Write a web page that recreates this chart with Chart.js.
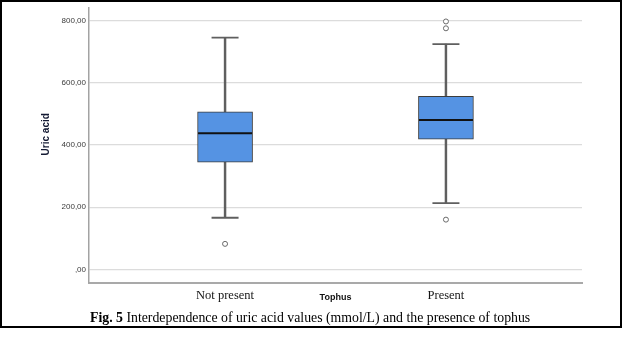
<!DOCTYPE html>
<html>
<head>
<meta charset="utf-8">
<script src="https://cdn.jsdelivr.net/npm/chart.js@4.4.0/dist/chart.umd.min.js"></script>
<style>
  html, body { margin: 0; padding: 0; background: #fff; }
  #wrap { position: relative; width: 624px; height: 356px; }
  #frame { position: absolute; left: 0; top: 0; width: 622px; height: 328px; box-sizing: border-box; border: 2px solid #000; pointer-events: none; }
  #cap { position: absolute; left: 90px; top: 310px; font-family: "Liberation Serif", "Times New Roman", serif; font-size: 13.8px; color: #000; white-space: nowrap; }
  canvas { position: absolute; left: 0; top: 0; }
</style>
</head>
<body>
<div id="wrap">
  <canvas id="c" width="624" height="356"></canvas>
  <div id="frame"></div>
  <div id="cap"><b>Fig. 5</b> Interdependence of uric acid values (mmol/L) and the presence of tophus</div>
</div>
<script>
const categories = ['Not present', 'Present'];
const whiskerLow  = [166, 213];
const q1          = [345, 419];
const median      = [438, 481];
const q3          = [507, 557];
const whiskerHigh = [746, 725];
const outliers    = [[82], [160, 776, 798]];
const yTicks      = [0, 200, 400, 600, 800];

const fmt = v => v === 0 ? ',00' : v.toFixed(2).replace('.', ',');

const boxData = categories.map((c, i) => ({ x: i, y: [q1[i], q3[i]] }));
const whiskerData = categories.map((c, i) => ({ x: i, y: [whiskerLow[i], whiskerHigh[i]] }));
const capData = [];
categories.forEach((c, i) => { capData.push({ x: i, y: whiskerLow[i] }); capData.push({ x: i, y: whiskerHigh[i] }); });
const medianData = categories.map((c, i) => ({ x: i, y: median[i] }));
const outlierData = [];
outliers.forEach((arr, i) => arr.forEach(v => outlierData.push({ x: i, y: v })));

new Chart(document.getElementById('c'), {
  type: 'bar',
  data: {
    datasets: [
      { type: 'bar', data: whiskerData, backgroundColor: '#5f5f5f', borderWidth: 0, barThickness: 1.8, grouped: false, order: 5 },
      { type: 'bar', data: boxData, backgroundColor: '#5593e3', borderColor: '#3c3c3c', borderWidth: 1, borderSkipped: false, barThickness: 55, grouped: false, order: 4 },
      { type: 'scatter', data: capData, pointStyle: 'line', pointRadius: 13.5, borderColor: '#5f5f5f', borderWidth: 1.8, order: 2 },
      { type: 'scatter', data: medianData, pointStyle: 'line', pointRadius: 27, borderColor: '#111111', borderWidth: 2, order: 1 },
      { type: 'scatter', data: outlierData, pointStyle: 'circle', pointRadius: 2.5, borderColor: '#6a6a6a', backgroundColor: '#ffffff', borderWidth: 1, order: 0 }
    ]
  },
  options: {
    responsive: false,
    animation: false,
    events: [],
    layout: { autoPadding: false, padding: { left: 0, top: 5, right: 42, bottom: 33 } },
    plugins: { legend: { display: false }, tooltip: { enabled: false } },
    scales: {
      x: {
        type: 'linear',
        offset: false,
        min: -0.616,
        max: 1.616,
        afterBuildTicks: s => { s.ticks = categories.map((c, i) => ({ value: i })); },
        afterFit: s => { s.height = 40; },
        grid: { drawOnChartArea: false, drawTicks: false },
        border: { display: true, color: '#a9a9a9', width: 2 },
        ticks: {
          callback: v => categories[v] ?? '',
          font: { family: '"Liberation Serif", "Times New Roman", serif', size: 12.5 },
          color: '#151515',
          padding: 5,
          maxRotation: 0,
          autoSkip: false
        },
        title: {
          display: true,
          text: 'Tophus',
          font: { family: '"Liberation Sans", Arial, sans-serif', size: 9, weight: 'bold' },
          color: '#111111',
          padding: { top: 0, bottom: 19.6 }
        }
      },
      y: {
        min: -44,
        max: 842,
        afterBuildTicks: s => { s.ticks = yTicks.map(v => ({ value: v })); },
        afterFit: s => { s.width = 89; },
        grid: { color: '#dcdcdc', lineWidth: 1.2, drawTicks: false },
        border: { display: true, color: '#a3a3a3', width: 1.5 },
        ticks: {
          callback: v => fmt(v),
          font: { family: '"Liberation Sans", Arial, sans-serif', size: 8 },
          color: '#3a3a3a',
          padding: 3
        },
        title: {
          display: true,
          text: '        Uric acid',
          font: { family: '"Liberation Sans", Arial, sans-serif', size: 10, weight: 'bold' },
          color: '#141a33',
          padding: { top: 40, bottom: 0 }
        }
      }
    }
  }
});
</script>
</body>
</html>
